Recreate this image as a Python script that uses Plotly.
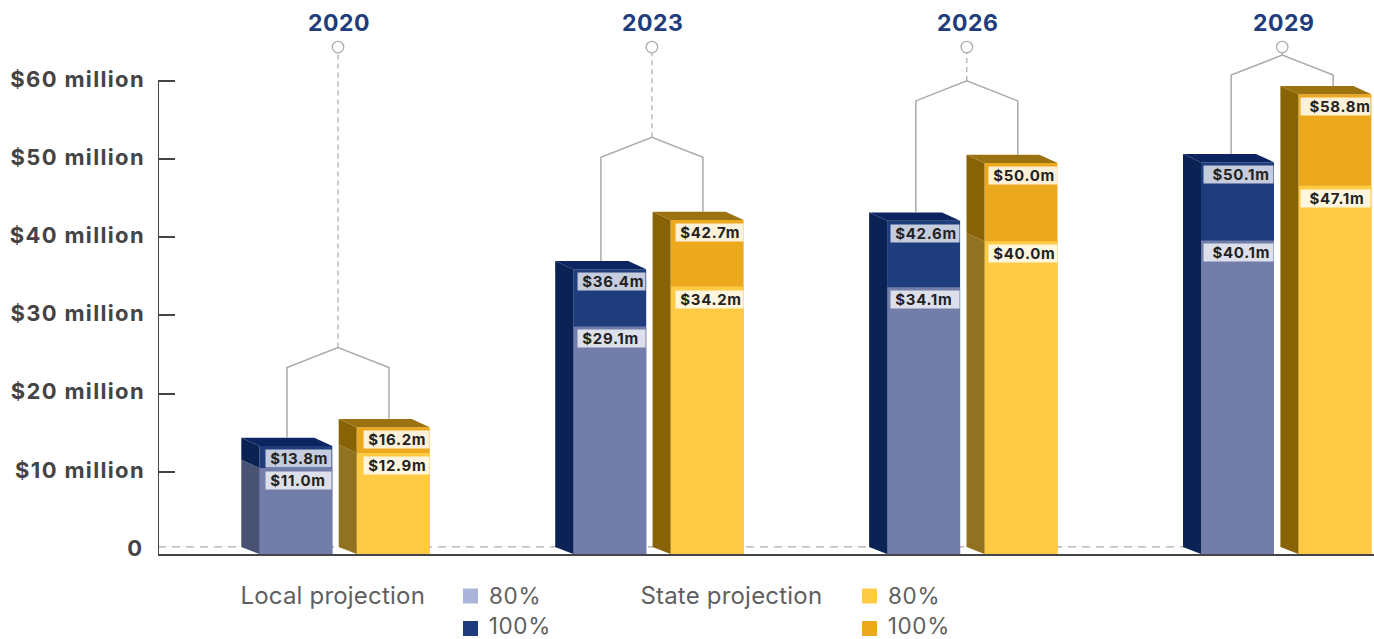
import plotly.graph_objects as go

# ---- data ----
years = ["2020", "2023", "2026", "2029"]
local_80 = [11.0, 29.1, 34.1, 40.1]
local_100 = [13.8, 36.4, 42.6, 50.1]
state_80 = [12.9, 34.2, 40.0, 47.1]
state_100 = [16.2, 42.7, 50.0, 58.8]
tick_values = [10, 20, 30, 40, 50, 60]
tick_labels = ["$10 million", "$20 million", "$30 million", "$40 million", "$50 million", "$60 million"]
apex_values = [26.4, 53.3, 60.5, 63.8]
legend_groups = ["Local projection", "State projection"]
legend_levels = ["80%", "100%"]

# ---- geometry / style (px per unit conversions) ----
W, H = 1374, 639
PX_X = 313.9
PX_Y = 7.82
BASE_PX = 554
L_MARGIN = 158
FIRST_CENTER = 344.5
xr0 = (L_MARGIN - FIRST_CENTER) / PX_X
xr1 = (W - FIRST_CENTER) / PX_X
yr1 = BASE_PX / PX_Y
BAR_W = 73 / PX_X
OFF = 48.7 / PX_X
DX = 18 / PX_X
DY = 8.3 / PX_Y
TICK_SHIFT = 0.5
BRACKET_C = [-6.5 / PX_X, -6.5 / PX_X, -5.5 / PX_X, -4 / PX_X]
BRACKET_HALF = 51 / PX_X
SHOULDER = 20 / PX_Y


def px(x):
    return (x - L_MARGIN) / (W - L_MARGIN)


def py(y):
    return (BASE_PX - y) / BASE_PX


INK = "#444446"
GREY = "#ABABAB"
C = {
    "local": dict(f80="#727DAA", f100="#1F3C7C", top="#0C2560", s100="#0A2254", s80="#4A5274",
                  box80="rgba(255,255,255,0.76)", box100="rgba(255,255,255,0.74)"),
    "state": dict(f80="#FFCB45", f100="#EDA91E", top="#9C7110", s100="#886306", s80="#917220",
                  box80="rgba(255,255,255,0.82)", box100="rgba(255,255,255,0.82)"),
}
light_side = {"local": [True, False, False, False], "state": [True, False, True, False]}
FONT = "Inter, Lato, sans-serif"
BOX_W = [65, 67, 68, 69]
INDENT = ["&nbsp;", "&nbsp;", "&nbsp;", "&nbsp;&nbsp;"]

fig = go.Figure()
annos = []
shapes = []


def poly(xs, ys, color):
    fig.add_trace(go.Scatter(x=xs, y=ys, mode="lines", fill="toself", fillcolor=color,
                             line=dict(width=0, color=color), hoverinfo="skip", showlegend=False))


for key, sign, v80, v100 in (("local", -1, local_80, local_100), ("state", 1, state_80, state_100)):
    c = C[key]
    xs = [i + sign * OFF for i in range(4)]
    fig.add_trace(go.Bar(x=xs, y=v100, width=BAR_W, marker=dict(color=c["f100"], line=dict(width=0)),
                         name=f"{key} 100%", showlegend=False))
    fig.add_trace(go.Bar(x=xs, y=v80, width=BAR_W, marker=dict(color=c["f80"], line=dict(width=0)),
                         name=f"{key} 80%", showlegend=False))
    for i, x in enumerate(xs):
        l = x - BAR_W / 2
        r = x + BAR_W / 2
        a, b = v80[i], v100[i]
        if light_side[key][i]:
            poly([l - DX, l, l, l - DX, l - DX], [0.9, 0, a, a + DY, 0.9], c["s80"])
            poly([l - DX, l, l, l - DX, l - DX], [a + DY, a, b, b + DY, a + DY], c["s100"])
        else:
            poly([l - DX, l, l, l - DX, l - DX], [0.9, 0, b, b + DY, 0.9], c["s100"])
        poly([l - DX, r - DX, r, l, l - DX], [b + DY, b + DY, b, b, b + DY], c["top"])
        for val, box in ((b, c["box100"]), (a, c["box80"])):
            annos.append(dict(x=r, y=val, xref="x", yref="y", xanchor="right", yanchor="top", yshift=-3,
                              text=f"{INDENT[i]}${val:.1f}m", showarrow=False, align="left",
                              width=BOX_W[i], height=17, bgcolor=box, borderpad=0,
                              font=dict(family=FONT, size=15, color="#222222", weight=700)))

# brackets, stems, year labels
for i, y in enumerate(years):
    c0 = i + BRACKET_C[i]
    ap = apex_values[i]
    left_x = c0 - BRACKET_HALF
    right_x = c0 + BRACKET_HALF
    fig.add_trace(go.Scatter(
        x=[left_x, left_x, c0, right_x, right_x],
        y=[local_100[i] + DY, ap - SHOULDER, ap, ap - SHOULDER, state_100[i] + DY],
        mode="lines", line=dict(color=GREY, width=1.5), hoverinfo="skip", showlegend=False))
    fig.add_trace(go.Scatter(x=[c0, c0], y=[ap, 64.2], mode="lines",
                             line=dict(color=GREY, width=1.2, dash="5px,4px"), hoverinfo="skip", showlegend=False))
    fig.add_trace(go.Scatter(x=[c0], y=[64.83], mode="markers",
                             marker=dict(size=11.5, color="white", line=dict(color=GREY, width=1.3)),
                             hoverinfo="skip", showlegend=False))
    annos.append(dict(x=c0, y=67.85, xref="x", yref="y", text=y, showarrow=False, xshift=1,
                      font=dict(family=FONT, size=23, color="#1F3C7C", weight=700)))

# "0" label
annos.append(dict(x=xr0, y=0.8, xref="x", yref="y", xanchor="right", text="0", showarrow=False, xshift=-13,
                  font=dict(family=FONT, size=22, color=INK, weight=700)))

# dashed back baseline & y axis line
shapes.append(dict(type="line", layer="below", xref="x", yref="y", x0=xr0, x1=(1190 - FIRST_CENTER) / PX_X,
                   y0=0.9, y1=0.9, line=dict(color=GREY, width=1.2, dash="8px,6px")))
shapes.append(dict(type="line", layer="above", xref="x", yref="y", x0=xr0, x1=xr0, y0=0,
                   y1=60 + TICK_SHIFT, line=dict(color=INK, width=2)))

# legend
SQ = 15
legend_rows = [596, 628.5]
legend_text_rows = [595, 625.5]
for g, (tx, sx, key) in zip(legend_groups, ((240, 463, "local"), (640, 862, "state"))):
    annos.append(dict(x=px(tx), y=py(595), xref="paper", yref="paper", text=g, showarrow=False, xanchor="left",
                      yanchor="middle", font=dict(family=FONT, size=24, color="#5F5F61", weight=400)))
    colors = ["#AAB4DB", C["local"]["f100"]] if key == "local" else [C["state"]["f80"], C["state"]["f100"]]
    for lev, row, trow, col in zip(legend_levels, legend_rows, legend_text_rows, colors):
        shapes.append(dict(type="rect", xref="paper", yref="paper", x0=px(sx), x1=px(sx + SQ),
                           y0=py(row - SQ / 2), y1=py(row + SQ / 2),
                           fillcolor=col, line=dict(width=0)))
        annos.append(dict(x=px(sx + 25), y=py(trow), xref="paper", yref="paper", text=lev, showarrow=False,
                          xanchor="left", yanchor="middle",
                          font=dict(family=FONT, size=22.5, color="#5F5F61", weight=400)))

fig.update_layout(
    width=W, height=H, margin=dict(l=L_MARGIN, r=0, t=0, b=H - BASE_PX, autoexpand=False),
    paper_bgcolor="white", plot_bgcolor="white", barmode="overlay", showlegend=False,
    shapes=shapes, annotations=annos,
    xaxis=dict(range=[xr0, xr1], showgrid=False, zeroline=False, showticklabels=False, ticks="",
               showline=True, linecolor=INK, linewidth=2),
    yaxis=dict(range=[0, yr1], showgrid=False, zeroline=False, showline=False,
               tickmode="array", tickvals=[v + TICK_SHIFT for v in tick_values], ticktext=tick_labels,
               ticks="inside", ticklen=17, tickwidth=2, tickcolor=INK, ticklabelstandoff=12,
               ticklabelshift=-2,
               tickfont=dict(family=FONT, size=22, color=INK, weight=700)),
)
spacing_js = """
document.body.style.margin='0';document.body.style.overflow='hidden';
var sp={'22px':'1.35px','15px':'0.7px','23px':'0.5px','24px':'0.2px','22.5px':'0.6px'};
document.querySelectorAll('svg text').forEach(function(t){var s=sp[t.style.fontSize];if(s){t.style.letterSpacing=s;}});
"""
fig.write_html("out.html", config={"displayModeBar": False}, post_script=spacing_js)
